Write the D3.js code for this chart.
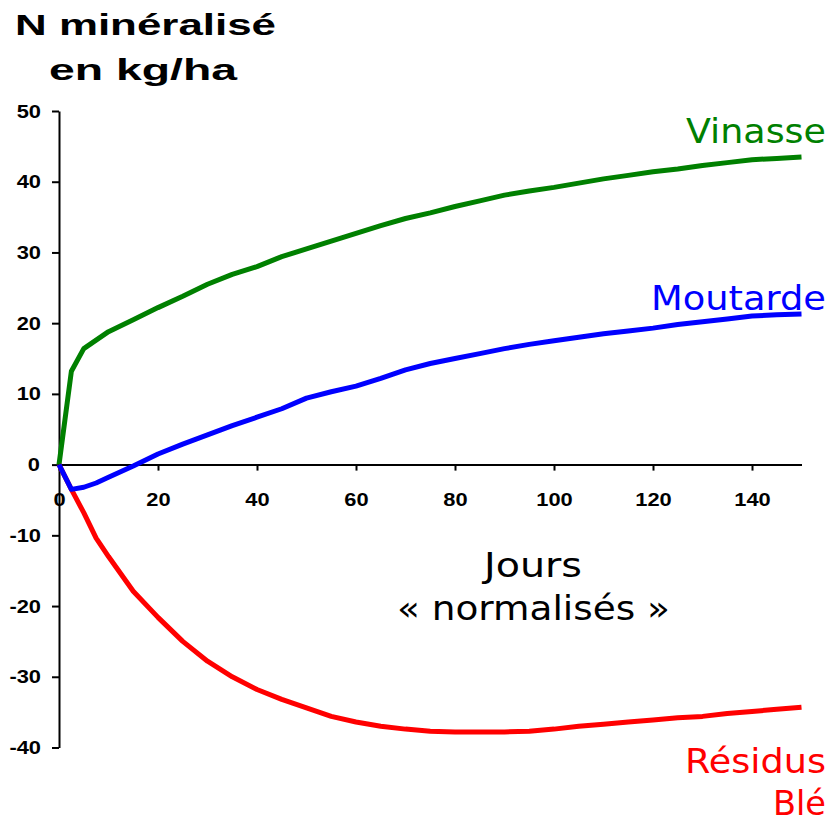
<!DOCTYPE html>
<html>
<head>
<meta charset="utf-8">
<script src="https://cdn.jsdelivr.net/npm/d3@7"></script>
<style>
  body { margin: 0; background: #fff; }
  svg { display: block; }
</style>
</head>
<body>
<div id="chart"></div>
<script>
var width = 831
var height = 822

// Data
var days = [0, 2.5, 5, 7.5, 10, 15, 20, 25, 30, 35, 40, 45, 50, 55, 60, 65, 70, 75, 80, 85, 90, 95, 100, 105, 110, 115, 120, 125, 130, 135, 140, 145, 150]
var vinasse = [0, 13.2, 16.4, 17.6, 18.8, 20.5, 22.2, 23.8, 25.5, 26.9, 28.0, 29.4, 30.5, 31.6, 32.7, 33.8, 34.8, 35.6, 36.5, 37.3, 38.1, 38.7, 39.2, 39.8, 40.4, 40.9, 41.4, 41.8, 42.3, 42.7, 43.1, 43.3, 43.5]
var moutarde = [0, -3.5, -3.2, -2.6, -1.8, -0.2, 1.5, 2.9, 4.2, 5.5, 6.7, 7.9, 9.4, 10.3, 11.1, 12.2, 13.4, 14.3, 15.0, 15.7, 16.4, 17.0, 17.5, 18.0, 18.5, 18.9, 19.3, 19.8, 20.2, 20.6, 21.0, 21.2, 21.3]
var residusBle = [0, -3.5, -6.8, -10.4, -13.0, -17.9, -21.6, -25.0, -27.8, -30.0, -31.8, -33.2, -34.4, -35.6, -36.4, -37.0, -37.4, -37.7, -37.8, -37.8, -37.8, -37.7, -37.4, -37.0, -36.7, -36.4, -36.1, -35.8, -35.6, -35.2, -34.9, -34.6, -34.3]
var xTicks = [0, 20, 40, 60, 80, 100, 120, 140]
var yTicks = [-40, -30, -20, -10, 0, 10, 20, 30, 40, 50]

var svg = d3.select("#chart")
  .append("svg")
  .attr("width", width)
  .attr("height", height)

var xScale = d3.scaleLinear()
  .domain([0, 150])
  .range([59, 801.5])

var yScale = d3.scaleLinear()
  .domain([-40, 50])
  .range([747.5, 111])

// stretch bold tick labels a bit wider, like the original
function widen(sel, k) {
  sel.each(function() {
    var w = this.getComputedTextLength()
    d3.select(this)
      .attr("textLength", w * k)
      .attr("lengthAdjust", "spacingAndGlyphs")
  })
}

// Y axis
var yAxis = d3.axisLeft(yScale)
  .tickValues(yTicks)
  .tickSize(7)
  .tickSizeOuter(0)
  .tickPadding(11)
  .tickFormat(d => String(d))

var yG = svg.append("g")
  .attr("transform", `translate(${xScale(0)},0)`)
  .call(yAxis)
yG.select(".domain").style("stroke-width", 2)
yG.selectAll(".tick line").style("stroke-width", 2)
yG.selectAll(".tick text")
  .style("font-family", "'Liberation Sans', Arial, sans-serif")
  .style("font-weight", "bold")
  .style("font-size", "19px")
  .style("fill", "#000")
  .call(widen, 1.15)
yG.selectAll(".tick text")
  .filter(d => d === 0)
  .attr("x", -19)

// X axis through zero
var xAxis = d3.axisBottom(xScale)
  .tickValues(xTicks)
  .tickSize(6)
  .tickSizeOuter(0)

var xG = svg.append("g")
  .attr("transform", `translate(0,${yScale(0)})`)
  .call(xAxis)
xG.select(".domain").style("stroke-width", 2)
xG.selectAll(".tick line").style("stroke-width", 2)
xG.selectAll(".tick text")
  .attr("y", 41)
  .attr("dy", 0)
  .style("font-family", "'Liberation Sans', Arial, sans-serif")
  .style("font-weight", "bold")
  .style("font-size", "19px")
  .style("fill", "#000")
  .call(widen, 1.15)

// Lines
var series = [
  { name: "vinasse", values: vinasse, color: "#008000" },
  { name: "residus", values: residusBle, color: "#ff0000" },
  { name: "moutarde", values: moutarde, color: "#0000ff" }
]

var line = d3.line()
  .x((d, i) => xScale(days[i]))
  .y(d => yScale(d))

svg.append("g")
  .selectAll("path")
  .data(series)
  .enter()
  .append("path")
  .attr("class", d => "line " + d.name)
  .attr("d", d => line(d.values))
  .style("fill", "none")
  .style("stroke", d => d.color)
  .style("stroke-width", 5)
  .style("stroke-linejoin", "round")

// Title
var title = svg.append("g")
  .style("font-family", "'Liberation Sans', Arial, sans-serif")
  .style("font-weight", "bold")
  .style("font-size", "30px")
  .style("fill", "#000")

title.append("text")
  .attr("x", 15).attr("y", 35)
  .attr("textLength", 261).attr("lengthAdjust", "spacingAndGlyphs")
  .text("N minéralisé")
title.append("text")
  .attr("x", 49).attr("y", 80)
  .attr("textLength", 188).attr("lengthAdjust", "spacingAndGlyphs")
  .text("en kg/ha")

// Series and axis labels
var labels = [
  { text: "Vinasse", x: 826, y: 143, w: 140, anchor: "end", color: "#008000" },
  { text: "Moutarde", x: 826, y: 310, w: 175, anchor: "end", color: "#0000ff" },
  { text: "Jours", x: 533, y: 577, w: 98, anchor: "middle", color: "#000" },
  { text: "« normalisés »", x: 533.5, y: 620, w: 273, anchor: "middle", color: "#000" },
  { text: "Résidus", x: 826, y: 773, w: 141, anchor: "end", color: "#ff0000" },
  { text: "Blé", x: 826, y: 815, w: 53, anchor: "end", color: "#ff0000" }
]

svg.append("g")
  .selectAll("text")
  .data(labels)
  .enter()
  .append("text")
  .attr("x", d => d.x)
  .attr("y", d => d.y)
  .attr("text-anchor", d => d.anchor)
  .attr("textLength", d => d.w)
  .attr("lengthAdjust", "spacingAndGlyphs")
  .style("font-family", "'DejaVu Sans', sans-serif")
  .style("font-size", "34px")
  .style("fill", d => d.color)
  .text(d => d.text)
</script>
</body>
</html>
